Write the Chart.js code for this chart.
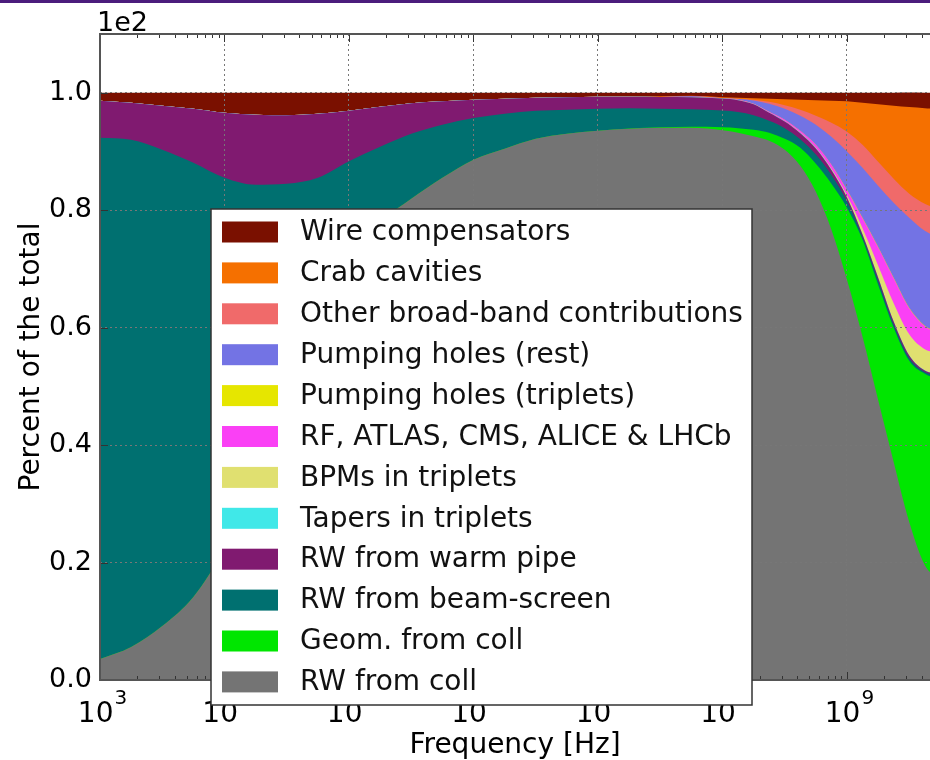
<!DOCTYPE html>
<html>
<head>
<meta charset="utf-8">
<script src="https://cdn.jsdelivr.net/npm/chart.js@4.4.1/dist/chart.umd.min.js"></script>
<style>
  html, body { margin: 0; padding: 0; background: #fff; }
  #wrap { position: relative; width: 930px; height: 760px; overflow: hidden; }
  #topbar { position: absolute; left: 0; top: 0; width: 930px; height: 3px; background: #4b1c7c; }
  canvas { display: block; }
</style>
</head>
<body>
<div id="wrap">
  <canvas id="shareChart" width="930" height="760"></canvas>
  <div id="topbar"></div>
</div>
<script>
// frequency samples [Hz]
const frequencies = [1000, 1778, 3162, 5623, 1e4, 17783, 31623, 56234, 1e5, 177828, 316228, 562341,
  1e6, 1778279, 3162278, 5623413, 1e7, 17782794, 31622777, 56234133, 1e8, 133352143, 177827941,
  237137371, 316227766, 421696503, 562341325, 749894209, 1e9, 1333521432, 1778279410, 2371373706,
  3162277660, 4216965034, 5011872336];

// share of each contribution, percent (stacked bottom -> top)
const rwColl = [3.58, 5.62, 9.20, 14.14, 22.32, 32.88, 46.85, 61.33, 72.40, 78.02, 81.94, 85.52, 88.59, 90.46, 92.16, 93.02, 93.53, 93.87, 94.04, 94.04, 93.61, 93.19, 92.59, 91.82, 90.29, 87.56, 83.13, 76.66, 68.14, 58.43, 47.70, 37.14, 26.92, 19.59, 17.72];
const geomColl = [0, 0, 0, 0, 0, 0, 0, 0, 0, 0, 0, 0, 0, 0, 0, 0, 0, 0.05, 0.09, 0.17, 0.51, 0.78, 1.11, 1.36, 1.87, 3.07, 4.77, 7.84, 12.27, 16.52, 19.59, 22.83, 27.43, 32.54, 33.73];
const rwBeamScreen = [88.76, 86.37, 81.09, 73.94, 63.20, 51.45, 37.65, 24.19, 15.93, 12.78, 11.07, 9.03, 7.10, 5.96, 4.77, 4.09, 3.75, 3.44, 3.15, 2.98, 2.84, 2.73, 2.45, 2.04, 1.81, 1.45, 1.58, 1.50, 1.16, 0.48, 0.73, 0.56, 0.48, 0.31, 0.48];
const rwWarmPipe = [6.30, 6.30, 7.50, 9.20, 11.07, 11.93, 11.67, 10.90, 8.60, 6.81, 5.20, 4.00, 3.12, 2.56, 2.21, 2.13, 2.04, 1.96, 1.99, 2.04, 2.04, 2.04, 1.87, 1.36, 1.11, 1.02, 1.02, 0.85, 0.60, 0.43, 0.51, 0.51, 0.43, 0.26, 0.26];
const tapers = [0, 0, 0, 0, 0, 0, 0, 0, 0, 0, 0, 0, 0, 0, 0, 0, 0, 0, 0, 0, 0, 0, 0, 0, 0.03, 0.03, 0.03, 0.03, 0.03, 0.03, 0.03, 0.03, 0.03, 0.03, 0.03];
const bpms = [0, 0, 0, 0, 0, 0, 0, 0, 0, 0, 0, 0, 0, 0, 0, 0, 0, 0, 0, 0, 0, 0, 0, 0, 0.03, 0.05, 0.09, 0.17, 0.34, 1.02, 2.04, 3.07, 3.58, 3.58, 3.58];
const rfExperiments = [0, 0, 0, 0, 0, 0, 0, 0, 0, 0, 0, 0, 0, 0, 0, 0, 0, 0, 0, 0.03, 0.05, 0.07, 0.10, 0.17, 0.26, 0.34, 0.51, 0.68, 0.85, 1.70, 3.07, 4.26, 4.43, 3.92, 3.58];
const pumpTriplets = [0, 0, 0, 0, 0, 0, 0, 0, 0, 0, 0, 0, 0, 0, 0, 0, 0, 0, 0, 0, 0, 0, 0, 0, 0, 0, 0, 0, 0.09, 0.09, 0.09, 0.09, 0.09, 0.09, 0.09];
const pumpRest = [0, 0, 0, 0, 0, 0, 0, 0, 0, 0, 0, 0, 0, 0, 0, 0, 0, 0, 0.02, 0.12, 0.02, 0.12, 0.55, 1.36, 1.87, 2.56, 3.41, 4.77, 6.52, 8.52, 10.39, 12.78, 15.33, 16.18, 16.18];
const otherBroadBand = [0, 0, 0, 0, 0, 0, 0, 0, 0, 0, 0, 0, 0, 0, 0, 0, 0, 0, 0, 0.05, 0.03, 0.05, 0.14, 0.34, 0.60, 1.02, 1.53, 2.39, 3.36, 3.92, 4.09, 4.09, 4.09, 4.60, 4.77];
const crabCavities = [0, 0, 0, 0, 0, 0, 0, 0, 0, 0, 0, 0, 0, 0, 0, 0, 0, 0, 0.09, 0.05, 0.12, 0.17, 0.26, 0.51, 1.02, 1.70, 2.64, 3.75, 5.20, 7.16, 9.80, 12.44, 14.74, 16.27, 16.87];
const wireComp = [1.36, 1.70, 2.21, 2.73, 3.41, 3.75, 3.83, 3.58, 3.07, 2.39, 1.79, 1.45, 1.19, 1.02, 0.85, 0.77, 0.68, 0.68, 0.63, 0.51, 0.77, 0.85, 0.94, 1.02, 1.11, 1.19, 1.28, 1.36, 1.45, 1.70, 1.96, 2.21, 2.47, 2.64, 2.73];

// ticks
const xTickValues = [1e3, 1e4, 1e5, 1e6, 1e7, 1e8, 1e9];
const xTickBases = ['10', '10', '10', '10', '10', '10', '10'];
const xTickExponents = ['3', '4', '5', '6', '7', '8', '9'];
const yTickValues = [0, 20, 40, 60, 80, 100];
const yTickLabels = ['0.0', '0.2', '0.4', '0.6', '0.8', '1.0'];

const FONT = "'DejaVu Sans', sans-serif";

const layers = [
  { label: 'RW from coll', data: rwColl, color: '#747474' },
  { label: 'Geom. from coll', data: geomColl, color: '#00e600' },
  { label: 'RW from beam-screen', data: rwBeamScreen, color: '#007070' },
  { label: 'RW from warm pipe', data: rwWarmPipe, color: '#801a70' },
  { label: 'Tapers in triplets', data: tapers, color: '#40e8e8' },
  { label: 'BPMs in triplets', data: bpms, color: '#e0e070' },
  { label: 'RF, ATLAS, CMS, ALICE & LHCb', data: rfExperiments, color: '#fa40f5' },
  { label: 'Pumping holes (triplets)', data: pumpTriplets, color: '#e6e600' },
  { label: 'Pumping holes (rest)', data: pumpRest, color: '#7373e4' },
  { label: 'Other broad-band contributions', data: otherBroadBand, color: '#f06a6a' },
  { label: 'Crab cavities', data: crabCavities, color: '#f57000' },
  { label: 'Wire compensators', data: wireComp, color: '#7a1000' }
];

// frame, ticks, power-of-ten labels, offset text and the boxed legend on top
const decorations = {
  id: 'decorations',
  afterDraw(chart) {
    const c = chart.ctx;
    const a = chart.chartArea;
    const xs = chart.scales.x;
    const ys = chart.scales.y;
    c.save();

    // ticks (inside)
    c.strokeStyle = '#333';
    c.lineWidth = 1;
    c.beginPath();
    for (let n = 3; n <= 9; n++) {
      for (let k = 1; k <= 9; k++) {
        const v = k * Math.pow(10, n);
        if (v > xs.max) break;
        const px = Math.round(xs.getPixelForValue(v)) + 0.5;
        const len = k === 1 ? 8 : 4;
        c.moveTo(px, a.bottom); c.lineTo(px, a.bottom - len);
        c.moveTo(px, a.top); c.lineTo(px, a.top + len);
      }
    }
    yTickValues.forEach(v => {
      const py = Math.round(ys.getPixelForValue(v)) + 0.5;
      c.moveTo(a.left, py); c.lineTo(a.left + 8, py);
    });
    c.stroke();

    // spines
    c.strokeStyle = '#555';
    c.lineWidth = 2;
    c.beginPath();
    c.moveTo(a.right + 2, a.top); c.lineTo(a.left, a.top);
    c.lineTo(a.left, a.bottom); c.lineTo(a.right + 2, a.bottom);
    c.stroke();

    // x tick labels as 10^n
    c.fillStyle = '#000';
    c.textBaseline = 'alphabetic';
    c.textAlign = 'left';
    xTickValues.forEach((v, i) => {
      const px = xs.getPixelForValue(v);
      c.font = '28px ' + FONT;
      const wb = c.measureText(xTickBases[i]).width;
      c.font = '20px ' + FONT;
      const we = c.measureText(xTickExponents[i]).width;
      const x0 = px - (wb + we) / 2 + 2;
      c.font = '28px ' + FONT;
      c.fillText(xTickBases[i], x0, 722);
      c.font = '20px ' + FONT;
      c.fillText(xTickExponents[i], x0 + wb + 1, 704);
    });

    // offset text
    c.font = '27px ' + FONT;
    c.fillText('1e2', 97, 31);

    // legend
    const box = { x: 211, y: 209, w: 541, h: 496 };
    c.fillStyle = '#fff';
    c.fillRect(box.x, box.y, box.w, box.h);
    c.strokeStyle = '#333';
    c.lineWidth = 1.5;
    c.strokeRect(box.x, box.y, box.w, box.h);
    c.font = '28px ' + FONT;
    c.textBaseline = 'middle';
    const items = chart.data.datasets.slice().reverse();
    items.forEach((ds, i) => {
      const cy = 232 + i * 40.9;
      c.fillStyle = ds.backgroundColor;
      c.fillRect(222, cy - 10.5, 56, 21);
      c.fillStyle = '#111';
      c.fillText(ds.label, 300, cy + 1);
    });
    c.restore();
  }
};

const ctx = document.getElementById('shareChart').getContext('2d');
const shareChart = new Chart(ctx, {
  type: 'line',
  data: {
    labels: frequencies,
    datasets: layers.map(l => ({
      label: l.label,
      data: l.data,
      backgroundColor: l.color,
      borderColor: l.color,
      borderWidth: 0,
      pointRadius: 0,
      fill: 'origin',
      cubicInterpolationMode: 'monotone'
    }))
  },
  options: {
    responsive: false,
    animation: false,
    devicePixelRatio: 1,
    layout: { padding: { left: 0, right: 0, top: 34, bottom: 0 } },
    plugins: {
      legend: { display: false },
      tooltip: { enabled: false }
    },
    scales: {
      x: {
        type: 'logarithmic',
        min: 1e3,
        max: 4.645e9,
        afterBuildTicks: s => { s.ticks = xTickValues.map(v => ({ value: v })); },
        afterFit: s => { s.height = 80; },
        ticks: { display: false },
        grid: { color: '#777', lineWidth: 1, drawTicks: false, z: 1 },
        border: { display: false, dash: [2, 3] },
        title: {
          display: true,
          text: 'Frequency [Hz]',
          font: { family: FONT, size: 28 },
          color: '#000',
          padding: { top: 0, bottom: -3 }
        }
      },
      y: {
        stacked: true,
        min: 0,
        max: 110,
        afterBuildTicks: s => { s.ticks = yTickValues.map(v => ({ value: v })); },
        afterFit: s => { s.width = 100; },
        ticks: {
          callback: (v, i) => yTickLabels[i],
          font: { family: FONT, size: 27 },
          color: '#000',
          padding: 8
        },
        grid: { color: '#777', lineWidth: 1, drawTicks: false, z: 1 },
        border: { display: false, dash: [2, 3] },
        title: {
          display: true,
          text: 'Percent of the total',
          font: { family: FONT, size: 28 },
          color: '#000',
          padding: { top: 15, bottom: 0 }
        }
      }
    }
  },
  plugins: [decorations]
});
</script>
</body>
</html>
